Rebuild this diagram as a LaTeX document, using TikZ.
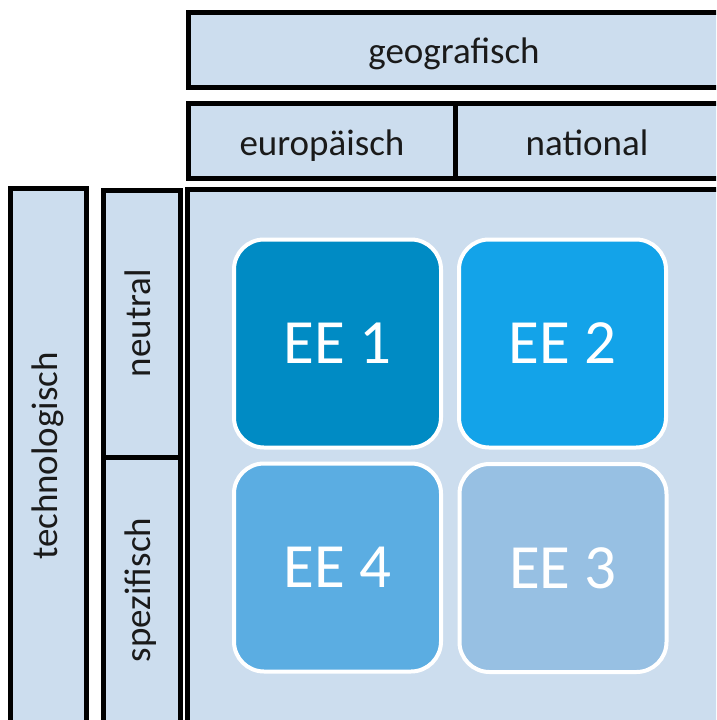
\documentclass[tikz,border=0pt]{standalone}
\usepackage{fontspec}
\setmainfont{Carlito}
\definecolor{cellfill}{HTML}{CCDDEE}
\definecolor{eeA}{HTML}{008BC4}
\definecolor{eeB}{HTML}{13A3E9}
\definecolor{eeC}{HTML}{97C0E3}
\definecolor{eeD}{HTML}{5BADE2}
\definecolor{labtext}{HTML}{1A1A1A}
\tikzset{
  cellbox/.style={draw=black, line width=5pt, fill=cellfill},
  lab/.style={font=\fontsize{37}{44}\selectfont, text=labtext, inner sep=0pt, anchor=base},
  eebox/.style={draw=white, line width=4pt, rounded corners=30pt,
    minimum width=207pt, minimum height=208pt, inner sep=0pt,
    text=white, font=\fontsize{63}{76}\selectfont},
}
\begin{document}
\begin{tikzpicture}[x=1pt,y=-1pt]
\useasboundingbox (0,0) rectangle (716,720);
\begin{scope}
\clip (0,0) rectangle (716,720);
% header rows
\draw[cellbox] (188,12.5) rectangle (740,87.5);
\draw[cellbox] (188,103) rectangle (455,178);
\draw[cellbox] (455,103) rectangle (740,178);
% left columns
\draw[cellbox] (10.5,188) rectangle (86,740);
\draw[cellbox] (103.5,190) rectangle (180,457);
\draw[cellbox] (103.5,457) rectangle (180,740);
% main field
\draw[cellbox] (187,189.5) rectangle (740,740);
\end{scope}
% header and side labels
\node[lab] (geo) at (454,63) {geografisch};
\node[lab] (eur) at (322,155) {europäisch};
\node[lab] (nat) at (587,155) {national};
\node[lab, rotate=90] (tech) at (57,456) {technologisch};
\node[lab, rotate=90] (neu) at (150,323) {neutral};
\node[lab, rotate=90] (spez) at (150,590) {spezifisch};
% the four fields
\node[eebox, fill=eeA] (ee1) at (337.5,343.5) {EE 1};
\node[eebox, fill=eeB] (ee2) at (562.5,343.5) {EE 2};
\node[eebox, fill=eeD] (ee4) at (337.5,567.5) {EE 4};
\node[eebox, fill=eeC] (ee3) at (563,568) {EE 3};
\end{tikzpicture}
\end{document}
